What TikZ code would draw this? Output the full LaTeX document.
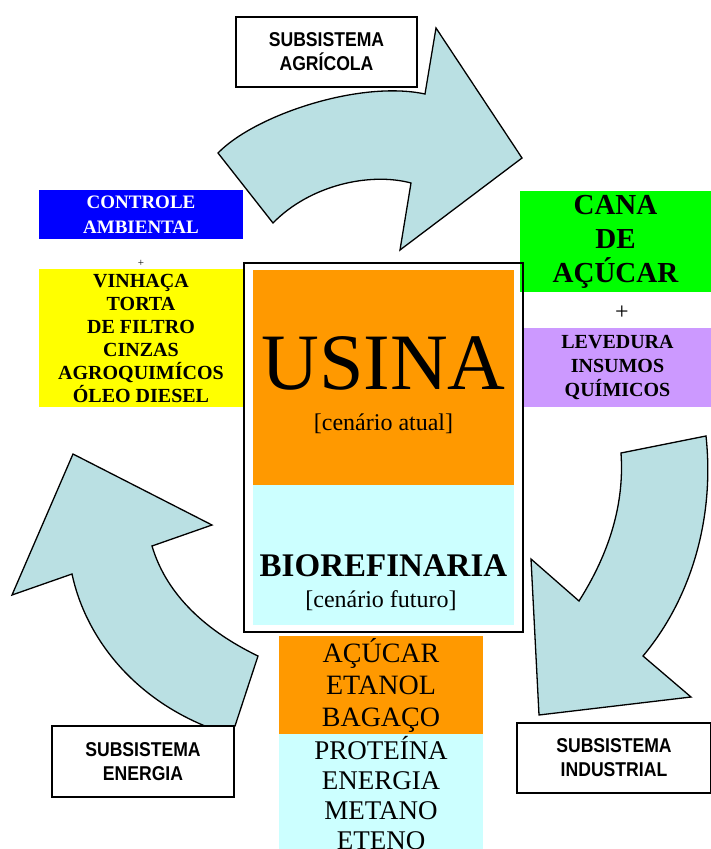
\documentclass[tikz,border=0pt]{standalone}
\usepackage{fontspec}
\setmainfont{Liberation Serif}
\newfontfamily\subfont[FakeStretch=0.88]{Liberation Sans}
\usepackage{xcolor}
\usetikzlibrary{shapes,arrows,positioning}
\definecolor{arrowblue}{HTML}{BAE0E3}
\definecolor{usinaorange}{HTML}{FF9900}
\definecolor{biocyan}{HTML}{CCFFFF}
\definecolor{canagreen}{HTML}{00FF00}
\definecolor{ctrlblue}{HTML}{0000FF}
\definecolor{residyellow}{HTML}{FFFF00}
\definecolor{levpurple}{HTML}{CC99FF}
\tikzstyle{subbox} = [rectangle, draw=black, line width=1.5pt, fill=white, inner sep=0pt, align=center, font=\subfont\bfseries\fontsize{20}{24}\selectfont]
\tikzstyle{colbox} = [rectangle, inner sep=0pt, align=center]
\tikzstyle{bigarrow} = [draw=black, line width=1.3pt, fill=arrowblue, line join=miter]

\begin{document}
\begin{tikzpicture}[x=1pt, y=-1pt]
    \clip (0,0) rectangle (711,849);

    % Arrows
    \path[bigarrow] (218,153) .. controls (255,115) and (360,80) .. (425,94) -- (436,28) -- (522,158) -- (400,250) -- (411,183) .. controls (370,172) and (310,185) .. (273,223) -- cycle;
    \path[bigarrow] (621,453) -- (706,436) .. controls (715,520) and (690,600) .. (643,656) -- (691,697) -- (539,715) -- (531,559) -- (579,601) .. controls (605,560) and (625,510) .. (621,453) -- cycle;
    \path[bigarrow] (235,726) -- (258,656) .. controls (200,628) and (165,590) .. (152,546) -- (212,525) -- (73,454) -- (12,595) -- (72,574) .. controls (85,635) and (130,695) .. (205,726) -- cycle;

    % Nodes
    \node (agricola) [subbox, minimum width=181pt, minimum height=70pt] at (326.5,52) {SUBSISTEMA\\AGRÍCOLA};
    \node (energia) [subbox, minimum width=182pt, minimum height=71pt] at (143,761.5) {SUBSISTEMA\\ENERGIA};
    \node (industrial) [subbox, minimum width=194pt, minimum height=70pt] at (614,758) {SUBSISTEMA\\INDUSTRIAL};

    \node (controle) [colbox, fill=ctrlblue, text=white, minimum width=204pt, minimum height=49pt, font=\bfseries\fontsize{19}{25}\selectfont] at (141,214.5) {CONTROLE\\AMBIENTAL};
    \node (plusL) at (141,263) [inner sep=0pt, font=\fontsize{11}{11}\selectfont] {+};
    \node (residuos) [colbox, fill=residyellow, minimum width=204pt, minimum height=138pt, font=\bfseries\fontsize{20}{23}\selectfont] at (141,338) {VINHAÇA\\TORTA\\DE FILTRO\\CINZAS\\AGROQUIMÍCOS\\ÓLEO DIESEL};

    \node (cana) [colbox, fill=canagreen, minimum width=191pt, minimum height=101pt, font=\bfseries\fontsize{29}{34}\selectfont] at (615.5,241.5) {CANA\\DE\\AÇÚCAR};
    \node (plusR) at (622,313) [inner sep=0pt, font=\fontsize{24}{24}\selectfont] {+};
    \node (levedura) [colbox, fill=levpurple, minimum width=187pt, minimum height=79pt, font=\bfseries\fontsize{20}{24}\selectfont] at (617.5,367.5) {LEVEDURA\\INSUMOS\\QUÍMICOS};

    \node (frame) [rectangle, draw=black, line width=2pt, minimum width=279pt, minimum height=369pt] at (383.5,447.5) {};
    \node (usina) [colbox, fill=usinaorange, minimum width=261pt, minimum height=215pt] at (383.5,377.5) {};
    \node (bio) [colbox, fill=biocyan, minimum width=261pt, minimum height=140pt] at (383.5,555) {};
    \node (usinatxt) [anchor=base, inner sep=0pt, font=\fontsize{80}{80}\selectfont] at (383.5,389) {USINA};
    \node (atual) [anchor=base, inner sep=0pt, font=\fontsize{24}{24}\selectfont] at (383.5,430) {[cenário atual]};
    \node (biotxt) [anchor=base, inner sep=0pt, font=\bfseries\fontsize{33}{33}\selectfont] at (383.5,576) {BIOREFINARIA};
    \node (futuro) [anchor=base, inner sep=0pt, font=\fontsize{24}{24}\selectfont] at (381,607) {[cenário futuro]};

    \node (produtos) [colbox, fill=usinaorange, minimum width=204pt, minimum height=98pt, font=\fontsize{28}{32}\selectfont] at (381,685) {AÇÚCAR\\ETANOL\\BAGAÇO};
    \node (novos) [colbox, fill=biocyan, minimum width=204pt, minimum height=119pt, font=\fontsize{27}{30}\selectfont] at (381,793.5) {PROTEÍNA\\ENERGIA\\METANO\\ETENO};

\end{tikzpicture}
\end{document}
